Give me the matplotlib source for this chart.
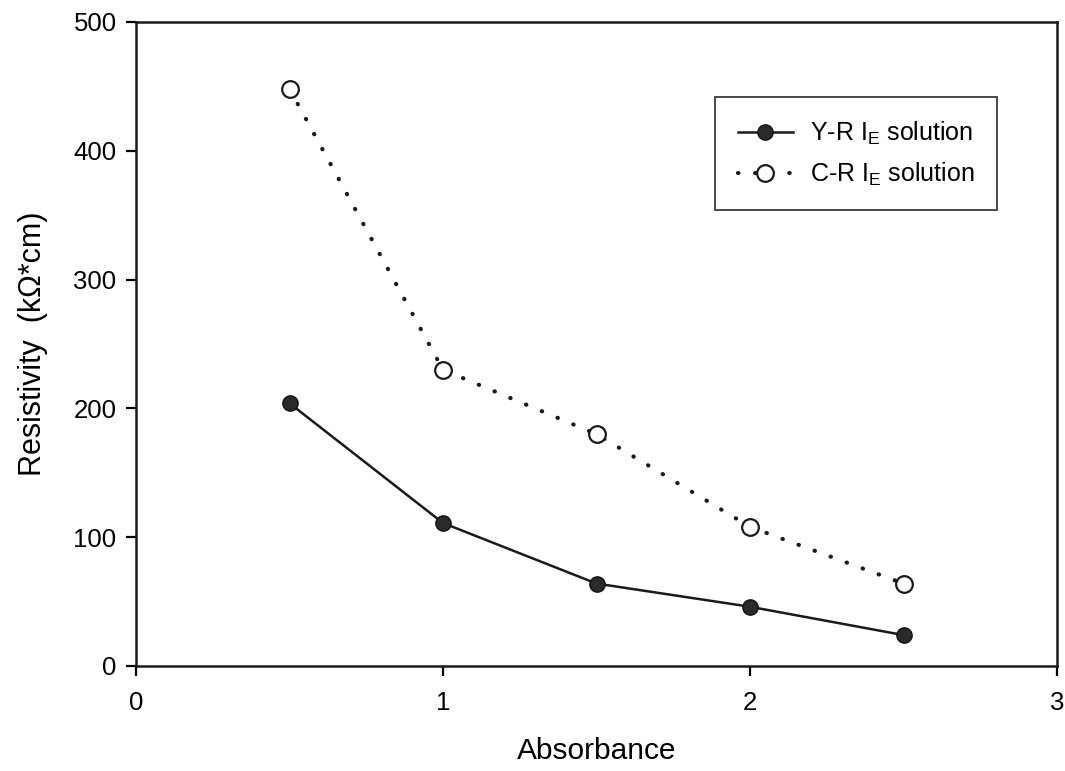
import matplotlib
matplotlib.use("Agg")
import matplotlib.pyplot as plt

plt.rcParams['font.family'] = ['Liberation Sans', 'DejaVu Sans']
plt.rcParams['mathtext.fontset'] = 'custom'
plt.rcParams['mathtext.rm'] = 'Liberation Sans'
plt.rcParams['mathtext.it'] = 'Liberation Sans'

absorbance = [0.5, 1.0, 1.5, 2.0, 2.5]
yr_resistivity = [204, 111, 64, 46, 24]
cr_resistivity = [448, 230, 180, 108, 64]
x_ticks = [0, 1, 2, 3]
y_ticks = [0, 100, 200, 300, 400, 500]

fig = plt.figure(figsize=(10.65, 7.71), dpi=100)
ax = fig.add_axes([0.1277, 0.1362, 0.8648, 0.8353])

ax.plot(absorbance, yr_resistivity, color='#1a1a1a', lw=1.8, marker='o',
        markersize=11, markerfacecolor='#2a2a2a', markeredgecolor='#111111',
        label='Y-R I$_\\mathrm{E}$ solution')
ax.plot(absorbance, cr_resistivity, color='#1a1a1a', lw=3.0,
        linestyle=(0, (0.1, 4.0)), dash_capstyle='round', marker='o',
        markersize=12, markerfacecolor='white', markeredgecolor='#1a1a1a',
        markeredgewidth=1.6, label='C-R I$_\\mathrm{E}$ solution')

ax.set_xlim(0, 3)
ax.set_ylim(0, 500)
ax.set_xticks(x_ticks)
ax.set_yticks(y_ticks)
ax.tick_params(direction='out', length=7, width=1.6, labelsize=18.5, pad=7)
ax.tick_params(axis='x', pad=11)
for s in ax.spines.values():
    s.set_linewidth(1.8)
    s.set_color('#1a1a1a')

ax.set_xlabel('Absorbance', fontsize=21.5, labelpad=16)
ax.set_ylabel('Resistivity  (k\u03a9*cm)', fontsize=22, labelpad=18)

leg = ax.legend(loc='upper left', bbox_to_anchor=(0.629, 0.8835),
                fontsize=18, frameon=True, fancybox=False, edgecolor='#1a1a1a',
                handlelength=2.2, borderpad=0.9, labelspacing=0.55,
                handletextpad=0.7, borderaxespad=0)
leg.get_frame().set_linewidth(1.4)

fig.savefig('out.png', dpi=100)
